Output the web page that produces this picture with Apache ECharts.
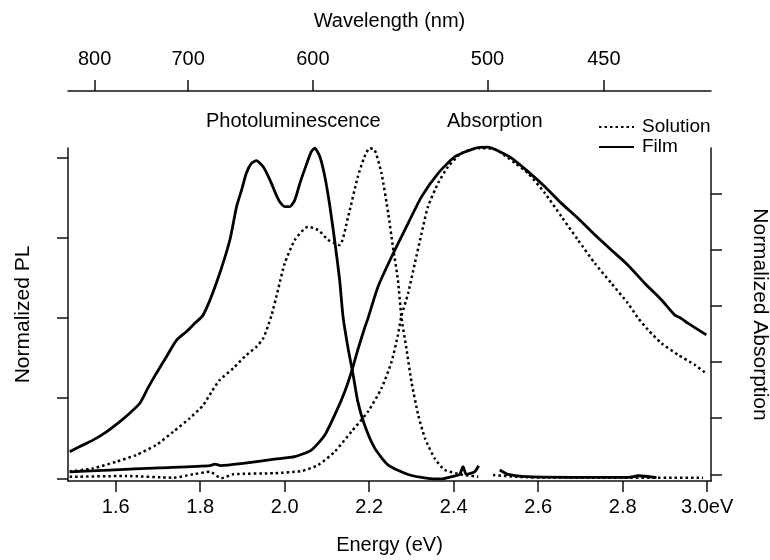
<!DOCTYPE html>
<html>
<head>
<meta charset="utf-8">
<script src="https://cdn.jsdelivr.net/npm/echarts@6/dist/echarts.min.js"></script>
<style>
html,body{margin:0;padding:0;background:#fff;}
#chart{width:770px;height:560px;}
</style>
</head>
<body>
<div id="chart"></div>
<script>
// ---- Tick labels ----
const energyTicks = [1.6, 1.8, 2.0, 2.2, 2.4, 2.6, 2.8, 3.0];
const wavelengthTicks = [800, 700, 600, 500, 450];
const plTicks = [0, 0.25, 0.5, 0.75, 1.0];
const absTicks = [0, 0.2, 0.4, 0.6, 0.8, 1.0];

// ---- Film photoluminescence (left axis) [energy eV, normalized PL] ----
const filmPL = [
  [1.491,0.083],[1.515,0.099],[1.546,0.119],[1.578,0.145],[1.609,0.176],[1.633,0.203],
  [1.657,0.234],[1.676,0.281],[1.696,0.327],[1.720,0.379],[1.744,0.431],[1.767,0.457],
  [1.787,0.483],[1.807,0.509],[1.838,0.608],[1.870,0.742],[1.886,0.847],[1.898,0.899],
  [1.909,0.951],[1.921,0.982],[1.933,0.990],[1.949,0.971],[1.965,0.930],[1.980,0.883],
  [1.988,0.862],[2.000,0.847],[2.012,0.847],[2.024,0.868],[2.036,0.920],[2.051,0.977],
  [2.063,1.018],[2.071,1.029],[2.083,1.003],[2.095,0.940],[2.107,0.847],[2.118,0.743],
  [2.130,0.618],[2.138,0.504],[2.150,0.405],[2.162,0.322],[2.173,0.239],[2.189,0.166],
  [2.213,0.094],[2.245,0.041],[2.292,0.012],[2.339,0.000],[2.371,-0.002],[2.395,0.005],
  [2.414,0.012],[2.422,0.036],[2.430,0.012],[2.450,0.021],[2.459,0.039],[2.480,null],
  [2.509,0.026],[2.529,0.012],[2.576,0.005],[2.700,0.003],[2.813,0.003],[2.837,0.008],
  [2.880,0.002]
];

// ---- Solution photoluminescence (left axis) ----
const solutionPL = [
  [1.491,0.021],[1.546,0.031],[1.602,0.052],[1.649,0.073],[1.696,0.104],[1.736,0.145],
  [1.775,0.187],[1.807,0.228],[1.827,0.270],[1.846,0.306],[1.878,0.343],[1.909,0.384],
  [1.933,0.410],[1.949,0.436],[1.960,0.473],[1.969,0.509],[1.984,0.587],[2.000,0.670],
  [2.024,0.743],[2.055,0.784],[2.079,0.774],[2.103,0.743],[2.130,0.727],[2.150,0.815],
  [2.173,0.940],[2.189,1.003],[2.201,1.029],[2.213,1.023],[2.229,0.951],[2.245,0.826],
  [2.256,0.722],[2.268,0.618],[2.276,0.504],[2.288,0.405],[2.300,0.301],[2.316,0.197],
  [2.332,0.125],[2.355,0.062],[2.379,0.026],[2.418,0.012],[2.458,0.005],[2.475,null],
  [2.493,0.010],[2.576,0.003],[2.746,0.002],[2.990,0.002]
];

// ---- Film absorption (right axis) ----
const filmAbs = [
  [1.491,0.009],[1.586,0.015],[1.704,0.023],[1.823,0.031],[1.835,0.036],[1.849,0.031],
  [1.901,0.039],[1.976,0.054],[2.024,0.063],[2.063,0.086],[2.095,0.140],[2.122,0.223],
  [2.142,0.294],[2.158,0.365],[2.174,0.448],[2.189,0.520],[2.197,0.555],[2.221,0.668],
  [2.253,0.774],[2.292,0.893],[2.324,0.988],[2.363,1.071],[2.403,1.130],[2.450,1.160],
  [2.481,1.164],[2.509,1.148],[2.537,1.125],[2.576,1.077],[2.616,1.023],[2.655,0.964],
  [2.694,0.911],[2.734,0.852],[2.773,0.798],[2.812,0.745],[2.852,0.680],[2.892,0.620],
  [2.923,0.567],[2.939,0.554],[2.955,0.537],[2.998,0.496]
];

// ---- Solution absorption (right axis) ----
const solutionAbs = [
  [1.491,-0.009],[1.625,-0.006],[1.736,-0.012],[1.783,0.000],[1.823,0.009],[1.850,-0.014],
  [1.878,0.000],[1.976,0.004],[2.040,0.012],[2.079,0.033],[2.118,0.080],[2.158,0.152],
  [2.197,0.223],[2.229,0.306],[2.253,0.401],[2.268,0.496],[2.276,0.561],[2.292,0.644],
  [2.308,0.751],[2.324,0.858],[2.339,0.952],[2.363,1.036],[2.387,1.095],[2.418,1.142],
  [2.458,1.160],[2.497,1.157],[2.545,1.107],[2.576,1.071],[2.616,1.000],[2.655,0.917],
  [2.694,0.834],[2.734,0.751],[2.773,0.680],[2.812,0.609],[2.837,0.555],[2.860,0.514],
  [2.892,0.466],[2.931,0.425],[2.971,0.389],[2.994,0.363]
];

const FONT = 'Liberation Sans, Arial, Helvetica, sans-serif';
const AX = {color: '#111', width: 1.5};
const xMin = 1.487, xMax = 3.009;

const chart = echarts.init(document.getElementById('chart'), null, {renderer: 'canvas'});

function solidSeries(name, data, yIdx) {
  return {name, type: 'line', xAxisIndex: 0, yAxisIndex: yIdx, data, symbol: 'none',
    showSymbol: false, connectNulls: false, clip: false, smooth: 0.2,
    lineStyle: {color: '#000', width: 2.8}, itemStyle: {color: '#000'}};
}
function dotSeries(name, data, yIdx) {
  return {name, type: 'line', xAxisIndex: 0, yAxisIndex: yIdx, data, symbol: 'none',
    showSymbol: false, connectNulls: false, clip: false, smooth: 0.2,
    lineStyle: {color: '#000', width: 2.5, type: [2.5, 3]}, itemStyle: {color: '#000'}};
}

chart.setOption({
  animation: false,
  backgroundColor: '#fff',
  textStyle: {fontFamily: FONT, color: '#000'},
  grid: {left: 68, right: 59, top: 148, bottom: 79, containLabel: false, outerBoundsMode: 'none'},
  legend: {
    data: ['Solution', 'Film'], orient: 'vertical', left: 593, top: 112,
    itemWidth: 35, itemHeight: 12, itemGap: 0,
    itemStyle: {opacity: 0},
    textStyle: {fontFamily: FONT, fontSize: 19, color: '#000', lineHeight: 20, padding: [0, 0, 0, 3]}
  },
  xAxis: [
    {
      type: 'value', position: 'bottom', min: xMin, max: xMax,
      axisLine: {show: true, onZero: false, lineStyle: AX},
      axisTick: {show: true, length: 11, inside: false, lineStyle: AX, customValues: energyTicks},
      axisLabel: {show: true, margin: 16, fontSize: 20, color: '#000', fontFamily: FONT,
        customValues: energyTicks,
        formatter: v => (Math.abs(v - 3.0) < 1e-6 ? '3.0eV' : v.toFixed(1))},
      splitLine: {show: false},
      name: 'Energy (eV)', nameLocation: 'middle', nameGap: 54,
      nameTextStyle: {fontSize: 20, color: '#000', fontFamily: FONT}
    },
    {
      type: 'value', position: 'top', offset: 57, min: xMin, max: xMax,
      axisLine: {show: true, onZero: false, lineStyle: AX},
      axisTick: {show: true, length: 11, inside: false, lineStyle: AX,
        customValues: wavelengthTicks.map(w => 1240 / w)},
      axisLabel: {show: true, margin: 22, fontSize: 20, color: '#000', fontFamily: FONT,
        customValues: wavelengthTicks.map(w => 1240 / w),
        formatter: v => String(Math.round(1240 / v))},
      splitLine: {show: false},
      name: 'Wavelength (nm)', nameLocation: 'middle', nameGap: 60,
      nameTextStyle: {fontSize: 20, color: '#000', fontFamily: FONT}
    }
  ],
  yAxis: [
    {
      type: 'value', position: 'left', min: -0.0084, max: 1.0296,
      axisLine: {show: true, onZero: false, lineStyle: AX},
      axisTick: {show: true, length: 11, inside: false, lineStyle: AX, customValues: plTicks},
      axisLabel: {show: false, customValues: plTicks},
      splitLine: {show: false},
      name: 'Normalized PL', nameLocation: 'middle', nameRotate: 90, nameGap: 34,
      nameTextStyle: {fontSize: 21, color: '#000', fontFamily: FONT}
    },
    {
      type: 'value', position: 'right', min: -0.0238, max: 1.161,
      axisLine: {show: true, onZero: false, lineStyle: AX},
      axisTick: {show: true, length: 11, inside: false, lineStyle: AX, customValues: absTicks},
      axisLabel: {show: false, customValues: absTicks},
      splitLine: {show: false},
      name: 'Normalized Absorption', nameLocation: 'middle', nameRotate: -90, nameGap: 38,
      nameTextStyle: {fontSize: 21, color: '#000', fontFamily: FONT}
    }
  ],
  graphic: [
    {type: 'text', left: 206, top: 111, style: {text: 'Photoluminescence', font: '20px ' + FONT, fill: '#000'}},
    {type: 'text', left: 447, top: 111, style: {text: 'Absorption', font: '20px ' + FONT, fill: '#000'}}
  ],
  series: [
    dotSeries('Solution', solutionPL, 0),
    solidSeries('Film', filmPL, 0),
    dotSeries('Solution', solutionAbs, 1),
    solidSeries('Film', filmAbs, 1)
  ]
});
</script>
</body>
</html>
